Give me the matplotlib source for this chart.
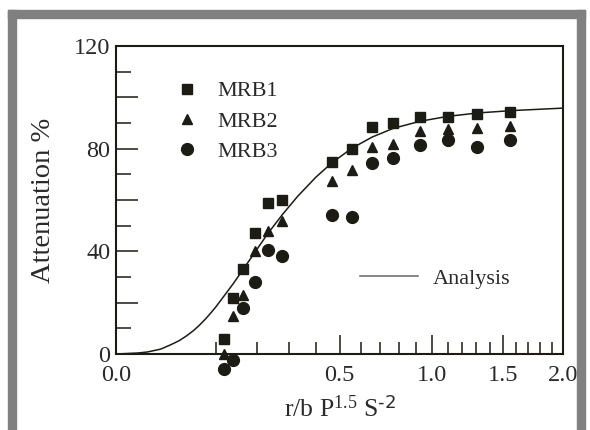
import numpy as np
import matplotlib
matplotlib.use("Agg")
import matplotlib.pyplot as plt
from matplotlib.patches import Rectangle
from matplotlib.ticker import FixedLocator, NullFormatter

plt.rcParams['font.family'] = ['Liberation Serif', 'DejaVu Serif']
plt.rcParams['mathtext.default'] = 'regular'

x_pts = [0.116, 0.138, 0.162, 0.194, 0.230, 0.277, 0.468, 0.556, 0.656, 0.769, 0.927, 1.104, 1.308, 1.556]
mrb1 = [6, 22, 33, 47, 59, 60, 75, 80, 88.5, 90, 92.5, 92.5, 93.5, 94.3]
mrb2 = [0, 15, 23, 40, 48, 52, 67.5, 71.5, 80.5, 82, 87, 87.5, 88, 89]
mrb3 = [-6, -2.5, 18, 28, 40.5, 38, 54, 53.5, 74.5, 76.5, 81.5, 83.5, 80.5, 83.5]

# analysis curve, points
curve_x = [0, 0.005, 0.01, 0.02, 0.03, 0.04, 0.05, 0.06, 0.07, 0.08, 0.09, 0.10,
           0.116, 0.138, 0.162, 0.194, 0.23, 0.277, 0.33, 0.40, 0.468, 0.556,
           0.656, 0.769, 0.927, 1.104, 1.308, 1.556, 2.0]
curve_y = [0, 0.4, 0.8, 1.9, 3.6, 5.2, 7.1, 9.1, 11.3, 13.6, 16.0, 18.4,
           22.4, 27.5, 33.0, 39.8, 46.8, 54.3, 61.4, 68.9, 74.6, 80.1,
           84.5, 87.9, 90.7, 92.6, 93.9, 94.8, 95.8]

x_major = [0.0, 0.5, 1.0, 1.5, 2.0]
x_minor = [0.1, 0.2, 0.3, 0.4, 0.6, 0.7, 0.8, 0.9, 1.1, 1.2, 1.3, 1.4, 1.6, 1.7, 1.8, 1.9]
y_major = [0, 20, 40, 60, 80, 100, 120]
y_major_labels = ['0', '', '40', '', '80', '', '120']
y_minor = [10, 30, 50, 70, 90, 110]

ink = '#1c1c14'
txt = '#2a2a2a'

fig = plt.figure(figsize=(5.9, 4.3), dpi=100)
# grey frame round the picture
W, H = 590, 430
def px_rect(x0, y0, x1, y1):
    fig.patches.append(Rectangle((x0 / W, 1 - y1 / H), (x1 - x0) / W, (y1 - y0) / H,
                                 transform=fig.transFigure, color='#808080', zorder=0))
px_rect(8, 10, 585, 18)
px_rect(8, 10, 16, 430)
px_rect(577, 10, 585, 430)

ax = fig.add_axes([116 / W, 1 - 354 / H, 447 / W, 308 / H])
ax.set_xscale('function', functions=(lambda v: np.sqrt(np.clip(v, 0, None)), lambda v: v ** 2))

line, = ax.plot(curve_x, curve_y, color=ink, lw=1.1, zorder=2, solid_joinstyle='round')
s1, = ax.plot(x_pts, mrb1, 's', color=ink, ms=7.5, clip_on=False, zorder=3, label='MRB1')
s2, = ax.plot(x_pts, mrb2, '^', color=ink, ms=7.5, clip_on=False, zorder=3, label='MRB2')
s3, = ax.plot(x_pts, mrb3, 'o', color=ink, ms=8.5, clip_on=False, zorder=3, label='MRB3')

ax.set_xlim(0, 2.0)
ax.set_ylim(0, 120)

ax.xaxis.set_major_locator(FixedLocator(x_major))
ax.xaxis.set_minor_locator(FixedLocator(x_minor))
ax.xaxis.set_minor_formatter(NullFormatter())
ax.set_xticklabels(['%.1f' % v for v in x_major])

ax.yaxis.set_major_locator(FixedLocator(y_major))
ax.set_yticklabels(y_major_labels)
ax.yaxis.set_minor_locator(FixedLocator(y_minor))
ax.yaxis.set_minor_formatter(NullFormatter())

for sp in ['top', 'right', 'left', 'bottom']:
    ax.spines[sp].set_linewidth(1.5)
    ax.spines[sp].set_color(ink)

ax.tick_params(axis='both', which='both', direction='in', color=ink, width=1.1,
               labelsize=17.5, labelcolor=txt, top=False, right=False)
ax.tick_params(axis='x', which='major', length=14, pad=8)
ax.tick_params(axis='x', which='minor', length=9)
ax.tick_params(axis='y', which='major', length=16, pad=4)
ax.tick_params(axis='y', which='minor', length=11)

ax.set_ylabel('Attenuation %', fontsize=20.5, color=txt)
ax.yaxis.set_label_coords(-0.134, 0.5)
ax.set_xlabel(r'r/b P$^{1.5}$ S$^{\text{-2}}$', fontsize=18.5, color=txt)
ax.xaxis.set_label_coords(0.5, -0.135)

leg1 = ax.legend(handles=[s1, s2, s3], loc='upper left', bbox_to_anchor=(0.134, 0.887),
                 frameon=False, fontsize=16, handlelength=1.0, handletextpad=0.86,
                 borderpad=0, borderaxespad=0, labelspacing=0.44, labelcolor=txt)
ax.add_artist(leg1)
line.set_label('Analysis')
ax.legend(handles=[line], loc='center left', bbox_to_anchor=(0.546, 0.245),
          frameon=False, fontsize=16, handlelength=2.6, handletextpad=0.68,
          borderpad=0, borderaxespad=0, labelcolor=txt)
ax.get_legend().get_lines()[0].set_color('#666666')

fig.savefig('out.png', dpi=100, facecolor='white')
